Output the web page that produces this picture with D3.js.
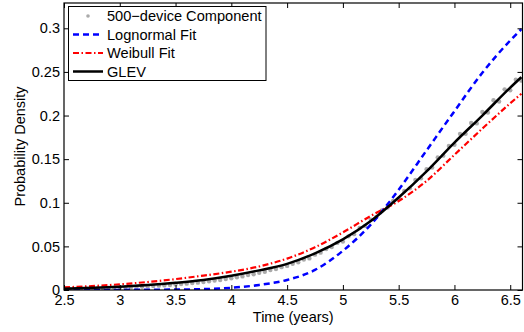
<!DOCTYPE html>
<html>
<head>
<meta charset="utf-8">
<script src="https://cdn.jsdelivr.net/npm/d3@7"></script>
<style>
    body { margin: 0; background: #fff; }
    text { font-family: "Liberation Sans", Arial, sans-serif; }
</style>
</head>
<body>
<div id="chart"></div>
<script>
// measured component data (every 0.05 years from 2.5)
var dataT0 = 2.5, dataStep = 0.05;
var dataValues = [
    0.0010, 0.0012, 0.0013, 0.0014, 0.0016, 0.0017, 0.0019, 0.0021, 0.0023, 0.0025,
    0.0027, 0.0030, 0.0032, 0.0035, 0.0038, 0.0041, 0.0045, 0.0050, 0.0053, 0.0058,
    0.0062, 0.0068, 0.0073, 0.0079, 0.0084, 0.0092, 0.0099, 0.0108, 0.0115, 0.0126,
    0.0134, 0.0147, 0.0156, 0.0171, 0.0180, 0.0198, 0.0209, 0.0228, 0.0240, 0.0262,
    0.0276, 0.0300, 0.0318, 0.0350, 0.0362, 0.0405, 0.0428, 0.0470, 0.0492, 0.0540,
    0.0555, 0.0615, 0.0640, 0.0712, 0.0735, 0.0805, 0.0838, 0.0912, 0.0945, 0.1020,
    0.1045, 0.1135, 0.1165, 0.1262, 0.1280, 0.1385, 0.1405, 0.1520, 0.1540, 0.1650,
    0.1665, 0.1790, 0.1790, 0.1915, 0.1910, 0.2040, 0.2035, 0.2175, 0.2160, 0.2300,
    0.2290, 0.2410, 0.2400
];

// fitted curves
var fitTimes = [2.5, 2.75, 3.0, 3.25, 3.5, 3.75, 4.0, 4.25, 4.5, 4.75, 5.0, 5.25, 5.5, 5.75, 6.0, 6.25, 6.5, 6.6];
var lognormalValues = [0, 0.00005, 0.0001, 0.0003, 0.0005, 0.001, 0.0025, 0.0058, 0.0115, 0.023, 0.045, 0.075, 0.115, 0.160, 0.205, 0.249, 0.286, 0.299];
var weibullValues = [0.003, 0.0045, 0.0065, 0.0092, 0.0125, 0.0165, 0.021, 0.027, 0.036, 0.049, 0.066, 0.085, 0.102, 0.125, 0.155, 0.185, 0.214, 0.225];
var glevValues = [0.0015, 0.0025, 0.0038, 0.0056, 0.0082, 0.0115, 0.0163, 0.0225, 0.030, 0.042, 0.058, 0.079, 0.106, 0.136, 0.169, 0.200, 0.232, 0.244];

var xTicks = [2.5, 3, 3.5, 4, 4.5, 5, 5.5, 6, 6.5];
var yTicks = [0, 0.05, 0.1, 0.15, 0.2, 0.25, 0.3];
var legendLabels = ["500\u2212device Component", "Lognormal Fit", "Weibull Fit", "GLEV"];

var WIDTH = 524, HEIGHT = 332;
var margin = {left: 64, top: 3, right: 1.5, bottom: 42};

var x = d3.scaleLinear().domain([2.5, 6.61]).range([margin.left, WIDTH - margin.right]);
var y = d3.scaleLinear().domain([0, 0.329]).range([HEIGHT - margin.bottom, margin.top]);

var svg = d3.select("#chart").append("svg")
    .attr("width", WIDTH)
    .attr("height", HEIGHT);

var defs = svg.append("defs");
defs.append("clipPath").attr("id", "clip")
    .append("rect")
    .attr("x", margin.left).attr("y", margin.top)
    .attr("width", WIDTH - margin.right - margin.left)
    .attr("height", HEIGHT - margin.bottom - margin.top);

var plot = svg.append("g").attr("clip-path", "url(#clip)");

// data points
plot.selectAll("circle.pt")
    .data(dataValues).enter()
    .append("circle")
    .attr("class", "pt")
    .attr("cx", function (d, i) { return x(dataT0 + i * dataStep); })
    .attr("cy", function (d) { return y(d); })
    .attr("r", 2.2)
    .attr("fill", "#aaaaaa");

var line = d3.line()
    .x(function (d) { return x(d[0]); })
    .y(function (d) { return y(d[1]); })
    .curve(d3.curveMonotoneX);

function series(vals) {
    return fitTimes.map(function (t, i) { return [t, vals[i]]; });
}

plot.append("path")
    .attr("d", line(series(weibullValues)))
    .attr("fill", "none")
    .attr("stroke", "#ff0000")
    .attr("stroke-width", 2.2)
    .attr("stroke-dasharray", "6,2.5,1.5,2.5");

plot.append("path")
    .attr("d", line(series(lognormalValues)))
    .attr("fill", "none")
    .attr("stroke", "#0000ff")
    .attr("stroke-width", 2.5)
    .attr("stroke-dasharray", "6,4");

plot.append("path")
    .attr("d", line(series(glevValues)))
    .attr("fill", "none")
    .attr("stroke", "#000")
    .attr("stroke-width", 2.5);

// axes (box style, ticks inward)
var x0 = margin.left, x1 = WIDTH - margin.right, y0 = HEIGHT - margin.bottom, y1 = margin.top;

svg.append("g")
    .attr("transform", "translate(0," + y0 + ")")
    .call(d3.axisBottom(x).tickValues(xTicks).tickSizeInner(-5).tickSizeOuter(0).tickPadding(4.5).tickFormat(d3.format("")))
    .call(function (g) { g.select(".domain").remove(); });

svg.append("g")
    .attr("transform", "translate(0," + y1 + ")")
    .call(d3.axisTop(x).tickValues(xTicks).tickSizeInner(-5).tickSizeOuter(0).tickFormat(""))
    .call(function (g) { g.select(".domain").remove(); });

svg.append("g")
    .attr("transform", "translate(" + x0 + ",0)")
    .call(d3.axisLeft(y).tickValues(yTicks).tickSizeInner(-5).tickSizeOuter(0).tickPadding(4).tickFormat(d3.format("")))
    .call(function (g) { g.select(".domain").remove(); });

svg.append("g")
    .attr("transform", "translate(" + x1 + ",0)")
    .call(d3.axisRight(y).tickValues(yTicks).tickSizeInner(-5).tickSizeOuter(0).tickFormat(""))
    .call(function (g) { g.select(".domain").remove(); });

svg.selectAll(".tick text")
    .style("font-size", "14.5px")
    .style("fill", "#000");
svg.selectAll(".tick line").attr("stroke", "#000");

svg.append("rect")
    .attr("x", x0).attr("y", y1)
    .attr("width", x1 - x0).attr("height", y0 - y1)
    .attr("fill", "none")
    .attr("stroke", "#000")
    .attr("stroke-width", 1.2);

// axis labels
svg.append("text")
    .attr("x", (x0 + x1) / 2)
    .attr("y", 322)
    .attr("text-anchor", "middle")
    .style("font-size", "14.5px")
    .text("Time (years)");

svg.append("text")
    .attr("transform", "translate(25," + ((y0 + y1) / 2) + ")rotate(-90)")
    .attr("text-anchor", "middle")
    .style("font-size", "14.5px")
    .text("Probability Density");

// legend
var legend = svg.append("g").attr("id", "legend");
legend.append("rect")
    .attr("x", 68.5).attr("y", 6.5)
    .attr("width", 197.5).attr("height", 74)
    .attr("fill", "#fff")
    .attr("stroke", "#000")
    .attr("stroke-width", 1);

var legendY = [16, 34.5, 53, 71.5];
var styles = [
    null,
    {stroke: "#0000ff", dash: "6,4", w: 2.5},
    {stroke: "#ff0000", dash: "6,2.5,1.5,2.5", w: 2.2},
    {stroke: "#000", dash: null, w: 2.5}
];

legendLabels.forEach(function (label, i) {
    if (i === 0) {
        legend.append("circle")
            .attr("cx", 88).attr("cy", legendY[i])
            .attr("r", 1.8)
            .attr("fill", "#aaaaaa");
    } else {
        legend.append("line")
            .attr("x1", 73).attr("x2", 103)
            .attr("y1", legendY[i]).attr("y2", legendY[i])
            .attr("stroke", styles[i].stroke)
            .attr("stroke-width", styles[i].w)
            .attr("stroke-dasharray", styles[i].dash);
    }
    legend.append("text")
        .attr("x", 107)
        .attr("y", legendY[i] + 5)
        .style("font-size", "14.6px")
        .text(label);
});
</script>
</body>
</html>
